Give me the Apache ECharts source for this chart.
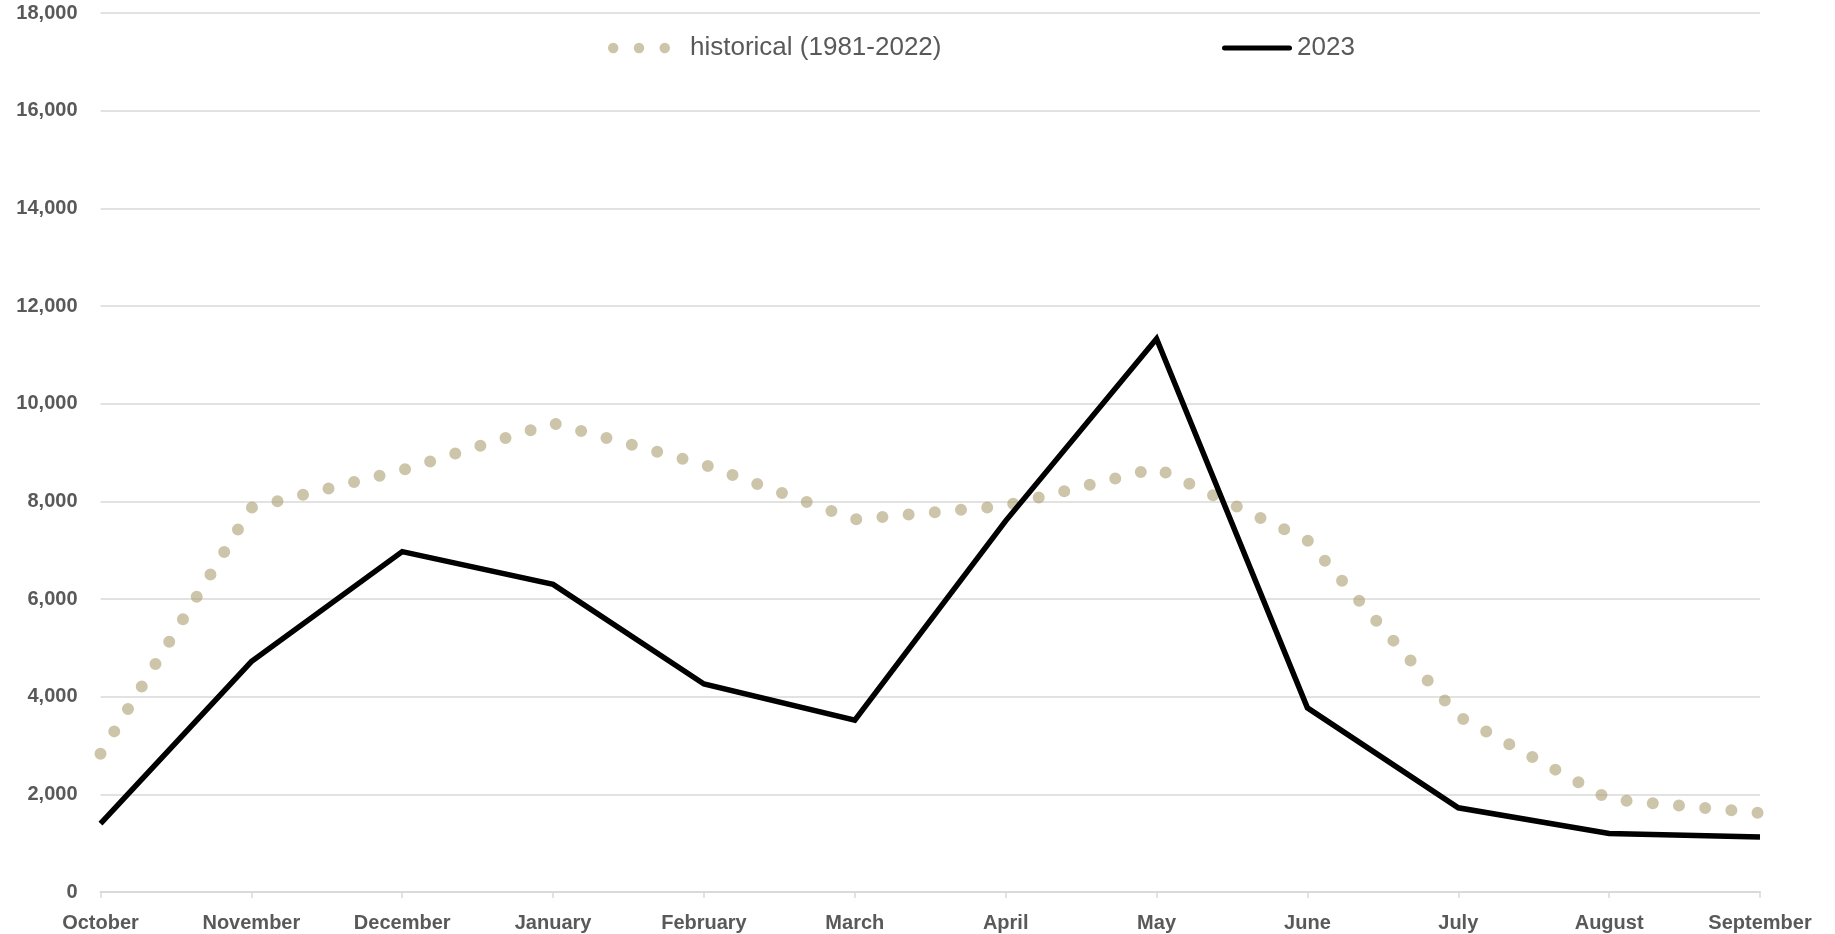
<!DOCTYPE html>
<html>
<head>
<meta charset="utf-8">
<script src="https://cdn.jsdelivr.net/npm/echarts@6/dist/echarts.min.js"></script>
<style>
  html, body { margin: 0; padding: 0; background: #fff; }
  #chart { width: 1835px; height: 934px; }
</style>
</head>
<body>
<div id="chart"></div>
<script>
const months = ['October', 'November', 'December', 'January', 'February', 'March', 'April', 'May', 'June', 'July', 'August', 'September'];
const historical = [2830, 7870, 8640, 9600, 8750, 7630, 7910, 8680, 7200, 3600, 1900, 1620];
const y2023 = [1400, 4720, 6970, 6300, 4260, 3520, 7600, 11330, 3770, 1725, 1200, 1125];
const seriesNames = ['historical (1981-2022)', '2023'];
const yMin = 0, yMax = 18000, yStep = 2000;

const labelColor = '#595959';
const gridColor = '#D9D9D9';
const dotColor = 'rgba(170,158,113,0.6)';

const chart = echarts.init(document.getElementById('chart'), null, { renderer: 'canvas' });
chart.setOption({
  animation: false,
  backgroundColor: '#ffffff',
  grid: { left: 100.5, right: 75, top: 13, bottom: 42, containLabel: false },
  legend: [
    {
      data: [seriesNames[0]],
      left: 608, top: 35, padding: 0,
      icon: 'path://M5.25,5.25m-5.25,0a5.25,5.25 0 1,0 10.5,0a5.25,5.25 0 1,0 -10.5,0M31,5.25m-5.25,0a5.25,5.25 0 1,0 10.5,0a5.25,5.25 0 1,0 -10.5,0M56.75,5.25m-5.25,0a5.25,5.25 0 1,0 10.5,0a5.25,5.25 0 1,0 -10.5,0',
      itemWidth: 62, itemHeight: 10.5,
      textStyle: { fontFamily: 'Liberation Sans, Arial, sans-serif', fontSize: 26, color: labelColor, padding: [0, 0, 0, 15] },
      selectedMode: false
    },
    {
      data: [seriesNames[1]],
      left: 1222, top: 35, padding: 0,
      icon: 'path://M2.5,0H67.5A2.5,2.5 0 0,1 67.5,5H2.5A2.5,2.5 0 0,1 2.5,0Z',
      itemWidth: 70, itemHeight: 5,
      textStyle: { fontFamily: 'Liberation Sans, Arial, sans-serif', fontSize: 26, color: labelColor },
      selectedMode: false
    }
  ],
  xAxis: {
    type: 'category',
    data: months,
    boundaryGap: false,
    axisLine: { lineStyle: { color: gridColor, width: 2 } },
    axisTick: { show: true, length: 6, lineStyle: { color: gridColor, width: 1.5 } },
    axisLabel: {
      interval: 0, margin: 21,
      fontFamily: 'Liberation Sans, Arial, sans-serif', fontSize: 20, fontWeight: 'bold', color: labelColor
    },
    splitLine: { show: false }
  },
  yAxis: {
    type: 'value',
    min: yMin, max: yMax, interval: yStep,
    axisLine: { show: false },
    axisTick: { show: false },
    axisLabel: {
      margin: 23,
      fontFamily: 'Liberation Sans, Arial, sans-serif', fontSize: 20, fontWeight: 'bold', color: labelColor,
      formatter: v => v.toLocaleString('en-US')
    },
    splitLine: { lineStyle: { color: gridColor, width: 1.5 } }
  },
  series: [
    {
      name: seriesNames[0],
      type: 'line',
      data: historical,
      showSymbol: false,
      symbol: 'none',
      itemStyle: { color: dotColor },
      lineStyle: { color: dotColor, width: 12, type: [0, 26.3], cap: 'round' },
      z: 2
    },
    {
      name: seriesNames[1],
      type: 'line',
      data: y2023,
      showSymbol: false,
      symbol: 'none',
      itemStyle: { color: '#000000' },
      lineStyle: { color: '#000000', width: 5.5, join: 'miter', cap: 'butt' },
      z: 3
    }
  ]
});
</script>
</body>
</html>
